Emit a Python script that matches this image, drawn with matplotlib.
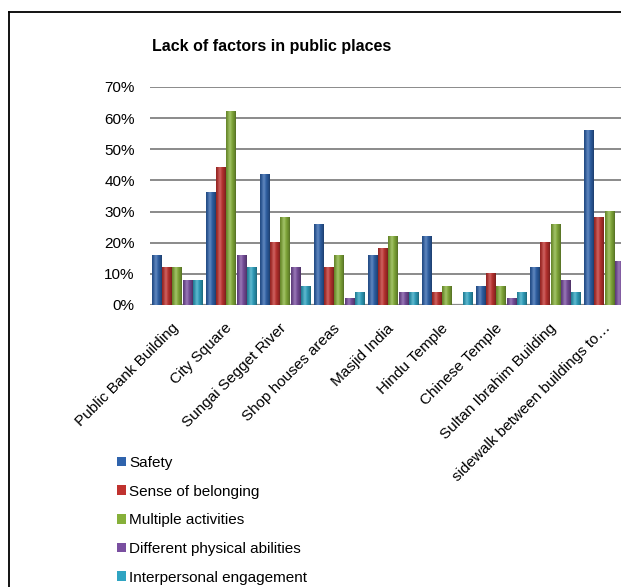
import numpy as np
import matplotlib
matplotlib.use("Agg")
import matplotlib.pyplot as plt
import matplotlib.colors as mcolors
import matplotlib.transforms as mtransforms
from matplotlib.lines import Line2D
from matplotlib.patches import Patch
from matplotlib.ticker import PercentFormatter

plt.rcParams['font.family'] = ['Liberation Sans', 'DejaVu Sans']

places = ["Public Bank Building", "City Square", "Sungai Segget River",
          "Shop houses areas", "Masjid India", "Hindu Temple",
          "Chinese Temple", "Sultan Ibrahim Building",
          "sidewalk between buildings to\u2026"]
factors = ["Safety", "Sense of belonging", "Multiple activities",
           "Different physical abilities", "Interpersonal engagement"]

# share of respondents per place (fractions)
safety        = [0.16, 0.36, 0.42, 0.26, 0.16, 0.22, 0.06, 0.12, 0.56]
belonging     = [0.12, 0.44, 0.20, 0.12, 0.18, 0.04, 0.10, 0.20, 0.28]
activities    = [0.12, 0.62, 0.28, 0.16, 0.22, 0.06, 0.06, 0.26, 0.30]
abilities     = [0.08, 0.16, 0.12, 0.02, 0.04, 0.00, 0.02, 0.08, 0.14]
engagement    = [0.08, 0.12, 0.06, 0.04, 0.04, 0.04, 0.04, 0.04, 0.04]

series = [safety, belonging, activities, abilities, engagement]
colors = ["#2F63AC", "#C0322F", "#86B03A", "#7A4FA0", "#2FA4C2"]


def shade(bar, color):
    # paint a bar as a little cylinder: dark edges, highlight left of centre
    x0, _ = bar.get_xy()
    w, h = bar.get_width(), bar.get_height()
    if h <= 0:
        return
    c = np.array(mcolors.to_rgb(color))
    t = np.linspace(0, 1, 40)
    edge = np.clip(1 - np.abs(t - 0.45) / 0.55, 0, 1) ** 0.6
    hi = np.exp(-((t - 0.38) / 0.18) ** 2)
    rows = c * (0.6 + 0.4 * edge)[:, None]
    rows = rows + (1 - rows) * (0.22 * hi)[:, None]
    img = np.clip(rows, 0, 1)[None, :, :]
    ax.imshow(img, extent=[x0, x0 + w, 0, h], aspect='auto',
              interpolation='bilinear', zorder=3)


fig = plt.figure(figsize=(6.21, 5.87), dpi=100)
ax = fig.add_axes([150 / 621, 1 - 305 / 587, 471 / 621, 218 / 587])

x = np.arange(len(places))
pitch, width = 0.187, 0.17
for k, (vals, col) in enumerate(zip(series, colors)):
    bars = ax.bar(x + (k - 2) * pitch, vals, width, color=col, zorder=2)
    for b in bars:
        shade(b, col)

ax.set_xlim(-0.5, 8.22)
ax.set_ylim(0, 0.7)
ax.set_yticks(np.arange(0, 0.71, 0.1))
ax.yaxis.set_major_formatter(PercentFormatter(1.0, decimals=0))
ax.grid(axis='y', color='#8A8A8A', linewidth=1.4, zorder=0)
ax.set_axisbelow(True)
for s in ax.spines.values():
    s.set_visible(False)
ax.axhline(0, color='#8A8A8A', linewidth=1.6, zorder=1)

ax.tick_params(axis='both', length=0, labelsize=11)
ax.tick_params(axis='y', pad=11)
ax.set_xticks(x)
ax.set_xticklabels(places, rotation=45, ha='right', va='top',
                   rotation_mode='anchor')
ax.tick_params(axis='x', pad=8)
# nudge the slanted labels down-left so their ends sit under the groups
shift = mtransforms.ScaledTranslation(-0.06, -0.05, fig.dpi_scale_trans)
for lab in ax.get_xticklabels():
    lab.set_transform(lab.get_transform() + shift)

fig.text(0.438, 1 - 46 / 587, "Lack of factors in public places",
         ha='center', va='center', fontsize=11.5, fontweight='bold')

handles = [Patch(facecolor=c, edgecolor='none') for c in colors]
fig.legend(handles, factors, loc='upper left',
           bbox_to_anchor=(117 / 621, 1 - 456 / 587), frameon=False,
           fontsize=11, handlelength=0.6, handleheight=0.6,
           handletextpad=0.2, labelspacing=0.96, borderpad=0,
           borderaxespad=0)

# chart frame, only the top and left edges fall inside the image
fig.add_artist(Line2D([9 / 621, 9 / 621], [0, 1 - 12 / 587],
                      color='black', linewidth=1.3))
fig.add_artist(Line2D([9 / 621, 1], [1 - 12 / 587, 1 - 12 / 587],
                      color='black', linewidth=1.3))

fig.savefig("out.png", dpi=100)
